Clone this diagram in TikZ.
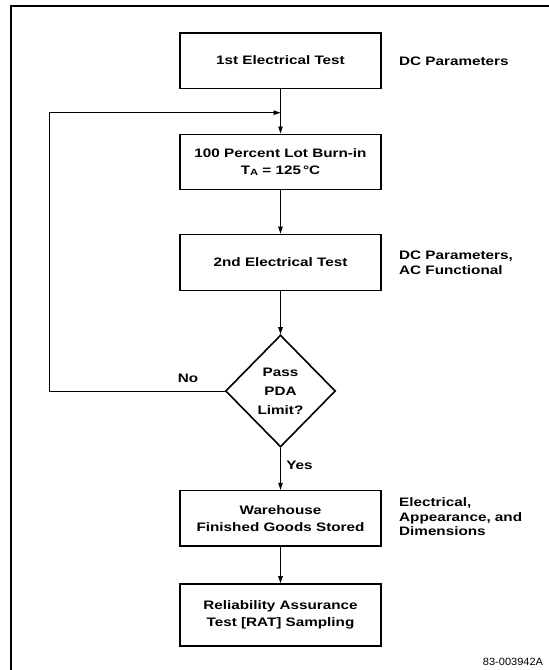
\documentclass[tikz,border=0pt]{standalone}
\usepackage{fontspec}
\setmainfont{Liberation Sans}[FakeStretch=1.24]
\newfontfamily\plainfont{Liberation Sans}[FakeStretch=1.05]
\usetikzlibrary{shapes.geometric,arrows.meta}
\tikzset{
  x=1pt, y=1pt,
  procbox/.style={draw, line width=1.6pt, minimum width=201pt, minimum height=55pt,
    inner sep=0pt, align=center, font=\bfseries\fontsize{12.3}{16.7}\selectfont},
  decide/.style={draw, diamond, line width=1.6pt, minimum width=110pt, minimum height=112pt,
    inner sep=0pt, align=center, font=\bfseries\fontsize{12.3}{19}\selectfont},
  note/.style={anchor=west, inner sep=0pt, align=left, font=\bfseries\fontsize{12.3}{14.5}\selectfont},
  lbl/.style={inner sep=0pt, font=\bfseries\fontsize{12.3}{14}\selectfont},
  conn/.style={line width=0.9pt, -{Triangle[length=7pt,width=4.5pt]}},
  frame/.style={line width=1.2pt}
}
\begin{document}
\begin{tikzpicture}
\useasboundingbox (0,0) rectangle (549,-670);
\coordinate (frTR) at (549,-6);
\coordinate (frTL) at (11,-6);
\coordinate (frBL) at (11,-670);
\draw[frame] (frTR) -- (frTL) -- (frBL);

\node[procbox, minimum height=55.6pt] (b1) at (280.5,-60.5) {1st Electrical Test};
\node[procbox] (b2) at (280.5,-161.8) {100 Percent Lot Burn-in\\T{\fontsize{9}{9}\selectfont\raisebox{-1.2pt}{A}} = 125\,°C};
\node[procbox, minimum height=56pt] (b3) at (280.5,-262.5) {2nd Electrical Test};
\node[decide] (dia) at (280.5,-391) {Pass\\PDA\\Limit?};
\node[procbox, minimum height=55.3pt] (b4) at (280.5,-518.3) {Warehouse\\Finished Goods Stored};
\node[procbox, minimum height=62pt] (b5) at (280.5,-615) {Reliability Assurance\\Test [RAT] Sampling};

\node[note] (n1) at (399,-61) {DC Parameters};
\node[note] (n3) at (399,-263) {DC Parameters,\\AC Functional};
\node[note] (n4) at (399,-517) {Electrical,\\Appearance, and\\Dimensions};

\node[lbl] (no) at (188,-378.3) {No};
\node[lbl] (yes) at (299.5,-465) {Yes};
\node[inner sep=0pt, font=\plainfont\fontsize{10.5}{12}\selectfont] (code) at (513,-662) {83-003942A};

\coordinate (merge) at (280.5,-112.7);
\coordinate (fbcorner) at (49,-112.7);

\draw[conn] (b1) -- (b2);
\draw[conn] (b2) -- (b3);
\draw[conn] (b3) -- (dia);
\draw[conn] (dia) -- (b4);
\draw[conn] (b4) -- (b5);
\draw[conn] (dia.west) -| (fbcorner) -- (merge);
\end{tikzpicture}
\end{document}
